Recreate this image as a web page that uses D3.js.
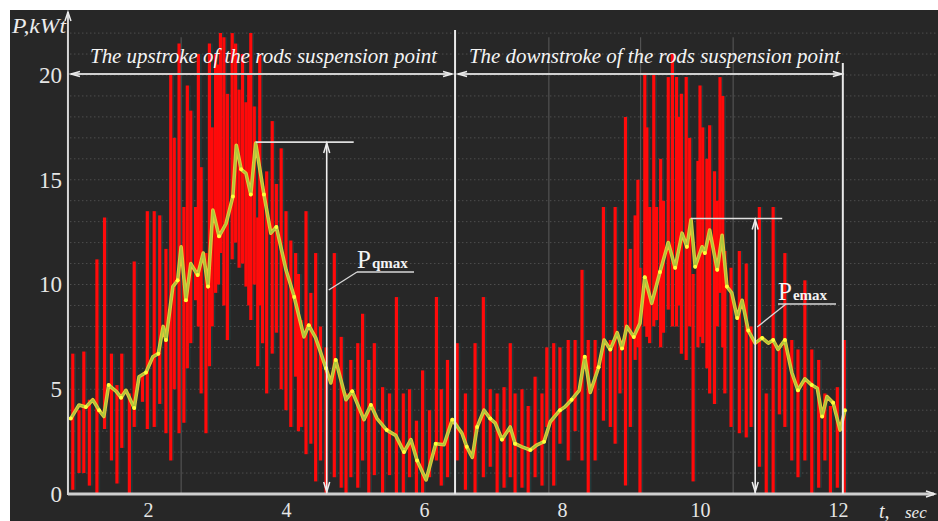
<!DOCTYPE html>
<html>
<head>
<meta charset="utf-8">
<script src="https://cdn.jsdelivr.net/npm/d3@7"></script>
<style>
  html, body { margin: 0; padding: 0; background: #fff; }
  svg { display: block; }
</style>
</head>
<body>
<svg id="chart" width="938" height="521"></svg>
<script>
// smoothed power curve (yellow), t in sec, P in kW
const lineT = [0.88,1.0,1.1,1.2,1.29,1.36,1.43,1.54,1.61,1.68,
  1.8,1.87,1.97,2.07,2.15,2.22,2.26,2.36,2.43,2.48,
  2.55,2.62,2.72,2.8,2.87,2.94,3.03,3.13,3.23,3.28,
  3.35,3.42,3.49,3.56,3.68,3.78,3.86,4.0,4.12,4.26,
  4.33,4.43,4.58,4.65,4.72,4.87,4.96,5.13,5.23,5.32,
  5.46,5.59,5.71,5.81,5.9,6.03,6.17,6.29,6.41,6.55,
  6.62,6.7,6.77,6.87,6.96,7.03,7.13,7.25,7.32,7.42,
  7.54,7.64,7.74,7.83,7.97,8.04,8.14,8.25,8.33,8.41,
  8.53,8.61,8.7,8.8,8.87,8.94,9.04,9.13,9.2,9.3,
  9.42,9.54,9.64,9.74,9.81,9.87,9.93,10.03,10.07,10.14,
  10.25,10.32,10.39,10.46,10.54,10.61,10.7,10.8,10.9,10.99,
  11.06,11.13,11.23,11.33,11.42,11.52,11.62,11.7,11.77,11.84,
  11.93,12.03,12.1]
const lineP = [3.6,4.25,4.15,4.5,4.0,3.7,5.2,4.9,4.6,4.95,
  4.1,5.6,5.8,6.55,6.7,8.0,7.35,9.9,10.2,11.8,
  9.25,11.0,10.45,11.5,9.9,13.55,12.3,12.9,14.2,16.65,
  15.5,15.3,14.3,16.75,14.3,12.45,12.75,10.7,9.4,7.5,
  8.05,7.45,6.0,5.3,6.4,4.5,4.9,3.55,4.25,3.6,
  3.05,2.8,2.0,2.6,1.6,0.67,2.4,2.35,3.55,2.9,
  2.25,1.75,3.2,4.0,3.6,3.4,2.6,3.2,2.4,2.25,
  2.1,2.35,2.5,3.45,4.0,4.15,4.5,4.95,6.55,4.85,
  6.05,7.35,6.9,7.7,6.95,8.0,7.5,8.15,10.35,9.1,
  10.6,12.0,10.8,12.45,11.8,13.1,10.85,11.8,11.5,12.6,
  10.7,12.35,9.9,9.6,8.4,9.25,7.8,7.2,7.45,7.2,
  7.35,6.9,7.35,5.8,4.95,5.5,5.2,5.05,3.7,4.65,
  4.35,3.05,4.0]

// instantaneous power spikes (red): time, low and high value
const spikeT = [0.91,1.0,1.07,1.15,1.26,1.37,1.47,1.55,1.62,1.73,1.8,1.92,1.99,
  2.09,2.17,2.26,2.33,2.38,2.45,2.52,2.57,2.62,2.69,2.73,2.77,2.84,2.89,2.93,2.98,3.02,3.05,3.1,3.15,3.22,3.27,3.32,3.37,3.42,3.46,3.49,3.54,3.59,3.62,3.66,
  3.72,3.8,3.86,3.93,4.0,4.07,4.14,4.18,4.22,4.29,4.36,4.43,4.5,4.58,4.7,4.8,4.87,4.94,5.04,5.11,5.2,5.28,5.4,5.5,5.6,5.7,5.79,5.89,5.98,6.08,6.18,6.25,6.34,6.48,
  6.6,6.74,6.86,6.96,7.06,7.16,7.25,7.32,7.42,7.51,7.61,7.71,7.78,7.88,7.97,8.09,8.19,8.29,8.38,8.48,8.6,8.7,8.77,8.84,8.92,8.99,9.06,9.1,9.13,9.2,9.23,9.27,9.33,9.37,9.43,
  9.47,9.54,9.6,9.66,9.7,9.73,9.8,9.85,9.9,9.97,10.0,10.04,10.1,10.14,10.21,10.25,10.29,10.33,10.36,10.45,10.57,10.67,10.74,10.86,10.96,11.06,11.15,11.23,11.33,11.42,11.52,11.62,11.72,11.81,11.89,11.99,12.09]
const spikeLo = [0.2,1.0,1.0,0.4,0.0,3.1,1.6,0.5,2.2,0.0,3.2,4.4,3.1,
  3.2,4.3,2.9,1.6,5.0,2.9,3.4,6.0,7.2,9.25,8.0,4.8,2.9,6.1,8.0,9.6,10.0,11.5,9.0,7.35,11.2,12.0,10.8,11.0,9.9,9.0,8.3,10.0,6.1,9.0,7.2,
  4.8,6.7,7.7,5.0,4.0,3.2,5.6,3.0,3.2,1.9,2.4,0.6,1.6,0.0,0.8,0.3,0.0,0.8,0.3,1.6,0.0,0.9,0.0,0.9,0.0,0.0,0.8,0.0,0.0,0.8,1.6,0.4,0.8,1.6,
  0.2,0.0,0.8,1.3,0.0,0.3,0.8,0.0,0.3,0.0,0.8,0.4,3.2,0.4,2.4,1.6,3.0,1.6,0.0,1.6,3.5,3.2,2.4,4.8,0.4,3.2,6.4,7.0,0.0,8.0,7.5,7.2,8.0,8.3,7.0,
  7.7,8.8,8.0,8.0,9.0,6.7,6.4,8.0,0.6,7.0,7.5,7.2,6.0,4.8,4.3,8.0,9.6,7.0,4.8,3.2,2.9,2.7,3.2,1.3,0.0,0.0,3.8,3.2,1.6,0.8,1.6,0.0,0.3,1.6,0.0,0.3,0.0]
const spikeHi = [6.7,4.0,6.8,4.5,11.2,13.2,6.7,5.2,6.7,4.8,11.1,5.7,13.5,
  13.5,13.3,11.7,20.1,17.0,21.5,13.7,19.5,18.3,13.7,21.0,15.6,11.5,21.5,17.5,21.0,20.5,22.0,21.8,19.1,22.0,21.5,19.3,21.0,18.7,20.0,22.0,18.5,13.2,21.0,14.7,
  15.4,17.8,14.8,16.5,13.5,12.1,11.5,10.5,8.3,13.5,9.6,11.5,8.0,7.0,11.5,7.5,4.8,6.4,7.2,8.6,6.4,7.2,5.1,4.8,9.4,4.8,5.0,3.5,5.9,4.0,9.4,5.0,6.4,7.2,
  4.8,7.2,9.4,5.0,4.8,5.1,7.2,4.8,5.0,4.2,5.6,4.8,7.0,7.2,7.0,7.35,7.35,10.7,7.35,7.35,13.7,7.35,13.7,7.35,18.0,11.7,13.3,15.0,10.8,20.1,17.5,13.7,20.0,13.7,16.0,
  14.0,19.9,21.0,19.9,18.0,19.1,19.9,17.0,10.5,15.9,19.5,17.5,16.0,17.6,15.4,14.0,19.9,19.0,11.6,10.8,11.6,11.0,8.0,13.7,4.8,13.7,6.9,11.5,7.35,6.9,10.2,6.9,6.4,4.8,4.2,5.1,7.35]

const yTicks = [0, 5, 10, 15, 20]
const xTicks = [2, 4, 6, 8, 10, 12]
const gridT = [2.48, 7.81, 9.14, 10.48]
const strokeStart = 0.84, strokeMid = 6.45, strokeEnd = 12.07
const peakQ = {t: 3.56, p: 16.75, arrowT: 4.59}
const peakE = {t: 9.87, p: 13.1, arrowT: 10.8}

const svg = d3.select('#chart')
const serif = '"Liberation Serif", "DejaVu Serif", serif'
const ink = '#ececec'

// scales
const x = d3.scaleLinear().domain([2, 12]).range([148, 838])
const y = d3.scaleLinear().domain([0, 20]).range([494, 75])
const x0 = x(strokeStart)

// dark photo background with white border top / left
svg.append('rect').attr('x', 10).attr('y', 10).attr('width', 928).attr('height', 511)
  .attr('fill', '#272727')

// dotted horizontal grid, every 1 kW
svg.append('g').selectAll('line').data(d3.range(1, 23)).join('line')
  .attr('x1', x0 + 2).attr('x2', 936)
  .attr('y1', d => y(d)).attr('y2', d => y(d))
  .attr('stroke', '#4e4e4e').attr('stroke-width', 1)
  .attr('stroke-dasharray', '1.5,2.5')

// faint vertical grid
svg.append('g').selectAll('line').data(gridT).join('line')
  .attr('x1', d => x(d)).attr('x2', d => x(d))
  .attr('y1', y(21.8)).attr('y2', y(0))
  .attr('stroke', '#5c5c5c').attr('stroke-width', 1)

// red spikes, with the dark teal fringe of the scan
const spikes = spikeT.map((t, i) => ({t: t, lo: spikeLo[i], hi: spikeHi[i]}))
svg.append('g').selectAll('line').data(spikes).join('line')
  .attr('x1', d => x(d.t) + 2.5).attr('x2', d => x(d.t) + 2.5)
  .attr('y1', d => y(d.lo)).attr('y2', d => y(d.hi))
  .attr('stroke', '#1f4d4f').attr('stroke-width', 1.5).attr('opacity', 0.5)
svg.append('g').selectAll('line').data(spikes).join('line')
  .attr('x1', d => x(d.t)).attr('x2', d => x(d.t))
  .attr('y1', d => y(d.lo)).attr('y2', d => y(d.hi))
  .attr('stroke', '#ff0a0a').attr('stroke-width', 3.2)

// smoothed curve
const pts = lineT.map((t, i) => [t, lineP[i]])
const line = d3.line().x(d => x(d[0])).y(d => y(d[1]))
svg.append('path').datum(pts).attr('d', line)
  .attr('fill', 'none').attr('stroke', '#e6c838').attr('stroke-width', 3.6)
  .attr('stroke-linejoin', 'round')
svg.append('path').datum(pts).attr('d', line)
  .attr('fill', 'none').attr('stroke', '#a9c83c').attr('stroke-width', 1.6)
  .attr('stroke-linejoin', 'round')
svg.append('g').selectAll('circle').data(pts.filter((d, i) => i % 2 === 0)).join('circle')
  .attr('cx', d => x(d[0])).attr('cy', d => y(d[1])).attr('r', 2)
  .attr('fill', '#ffff3a')

// helpers for the drawn arrows
function arrowHead(g, px, py, dir, len, half) {
  let p
  if (dir === 'up') p = [[px - half, py + len], [px, py], [px + half, py + len]]
  if (dir === 'down') p = [[px - half, py - len], [px, py], [px + half, py - len]]
  if (dir === 'left') p = [[px + len, py - half], [px, py], [px + len, py + half]]
  if (dir === 'right') p = [[px - len, py - half], [px, py], [px - len, py + half]]
  g.append('path').attr('d', d3.line()(p))
    .attr('fill', 'none').attr('stroke', ink).attr('stroke-width', 1.5)
}
const ann = svg.append('g')

// axes lines
ann.append('line').attr('x1', x0).attr('x2', x0).attr('y1', y(0) + 1).attr('y2', 12)
  .attr('stroke', '#d6d6d6').attr('stroke-width', 2)
arrowHead(ann, x0, 12, 'up', 9, 3)
ann.append('line').attr('x1', x0).attr('x2', 934).attr('y1', y(0)).attr('y2', y(0))
  .attr('stroke', '#cfcfcf').attr('stroke-width', 3)
arrowHead(ann, 935, y(0), 'right', 9, 3)

// y axis ticks
svg.append('g').attr('transform', 'translate(' + x0 + ',0)')
  .call(d3.axisLeft(y).tickValues(yTicks).tickSize(0).tickPadding(6))
  .call(g => g.select('.domain').remove())
  .attr('font-family', serif).attr('font-size', 23)
  .selectAll('text').attr('fill', '#e6e6e6')

// x axis ticks
svg.append('g').attr('transform', 'translate(0,' + y(0) + ')')
  .call(d3.axisBottom(x).tickValues(xTicks).tickSize(0).tickPadding(9))
  .call(g => g.select('.domain').remove())
  .attr('font-family', serif).attr('font-size', 20)
  .selectAll('text').attr('fill', '#e6e6e6')

// axis titles
ann.append('text').attr('x', 12).attr('y', 33).attr('textLength', 54)
  .attr('lengthAdjust', 'spacingAndGlyphs')
  .attr('font-family', serif).attr('font-style', 'italic').attr('font-size', 21)
  .attr('fill', ink).text('P,kWt')
ann.append('text').attr('x', 879).attr('y', 518)
  .attr('font-family', serif).attr('font-style', 'italic').attr('font-size', 20)
  .attr('fill', ink).text('t,')
ann.append('text').attr('x', 905).attr('y', 518)
  .attr('font-family', serif).attr('font-style', 'italic').attr('font-size', 17)
  .attr('fill', ink).text('sec')

// stroke dividers and span arrows
const xm = x(strokeMid), xe = x(strokeEnd)
ann.append('line').attr('x1', xm).attr('x2', xm).attr('y1', 30).attr('y2', y(0))
  .attr('stroke', '#e8e8e8').attr('stroke-width', 2)
ann.append('line').attr('x1', xe).attr('x2', xe).attr('y1', 63).attr('y2', y(0))
  .attr('stroke', '#e8e8e8').attr('stroke-width', 2)
const ySpan = y(20) - 1
ann.append('line').attr('x1', x0 + 3).attr('x2', xm - 3).attr('y1', ySpan).attr('y2', ySpan)
  .attr('stroke', '#d0d0d0').attr('stroke-width', 1.8)
ann.append('line').attr('x1', xm + 3).attr('x2', xe + 1).attr('y1', ySpan).attr('y2', ySpan)
  .attr('stroke', '#d0d0d0').attr('stroke-width', 1.8)
arrowHead(ann, x0 + 3, ySpan, 'left', 9, 2.5)
arrowHead(ann, xm - 3, ySpan, 'right', 9, 2.5)
arrowHead(ann, xm + 3, ySpan, 'left', 9, 2.5)
arrowHead(ann, xe - 1, ySpan, 'right', 9, 2.5)

ann.append('text').attr('x', 90).attr('y', 63).attr('textLength', 347)
  .attr('lengthAdjust', 'spacingAndGlyphs')
  .attr('font-family', serif).attr('font-style', 'italic').attr('font-size', 20)
  .attr('fill', '#f4f4f4').text('The upstroke of the rods suspension point')
ann.append('text').attr('x', 469).attr('y', 63).attr('textLength', 371)
  .attr('lengthAdjust', 'spacingAndGlyphs')
  .attr('font-family', serif).attr('font-style', 'italic').attr('font-size', 20)
  .attr('fill', '#f4f4f4').text('The downstroke of the rods suspension point')

// peak markers
function peakMark(pk, sub, lx, ly, ulen, lead) {
  const xa = x(pk.arrowT), yp = y(pk.p) - 1
  ann.append('line').attr('x1', x(pk.t)).attr('x2', xa + 27).attr('y1', yp).attr('y2', yp)
    .attr('stroke', '#dedede').attr('stroke-width', 1.6)
  ann.append('line').attr('x1', xa).attr('x2', xa).attr('y1', yp).attr('y2', y(0) - 1)
    .attr('stroke', '#f0f0f0').attr('stroke-width', 1.6)
  arrowHead(ann, xa, yp + 1, 'up', 10, 3)
  arrowHead(ann, xa, y(0) - 2, 'down', 10, 3)
  const t = ann.append('text').attr('x', lx).attr('y', ly)
    .attr('font-family', serif).attr('fill', '#f4f4f4')
  t.append('tspan').attr('font-size', 25).text('P')
  t.append('tspan').attr('font-size', 15).attr('font-weight', 'bold').attr('dx', 1).text(sub)
  ann.append('line').attr('x1', lx).attr('x2', lx + ulen).attr('y1', ly + 4).attr('y2', ly + 4)
    .attr('stroke', '#d8d8d8').attr('stroke-width', 1.5)
  ann.append('line').attr('x1', lead[0]).attr('y1', ly + 4).attr('x2', xa + 2).attr('y2', lead[1])
    .attr('stroke', '#d8d8d8').attr('stroke-width', 1.3)
}
peakMark(peakQ, 'qmax', 357, 268, 57, [357, 290])
peakMark(peakE, 'emax', 778, 300, 58, [786, 327])
</script>
</body>
</html>
